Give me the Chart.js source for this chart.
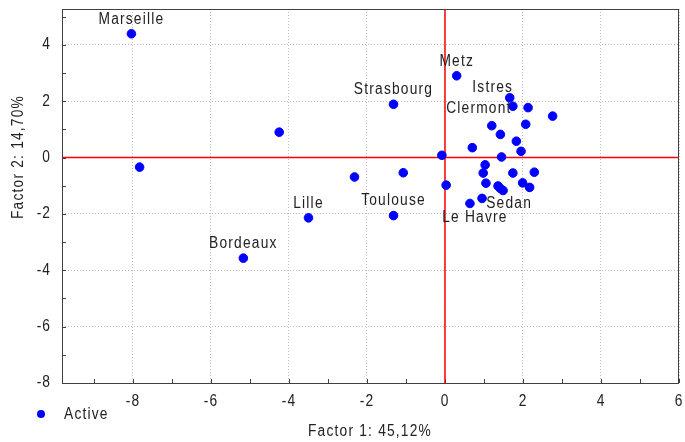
<!DOCTYPE html>
<html>
<head>
<meta charset="utf-8">
<script src="https://cdn.jsdelivr.net/npm/chart.js@4.4.1/dist/chart.umd.min.js"></script>
<style>
  html, body { margin: 0; padding: 0; background: #fff; }
  #wrap { width: 685px; height: 442px; }
</style>
</head>
<body>
<div id="wrap"><canvas id="pca" width="685" height="442"></canvas></div>
<script>
// PCA factor plane (factors 1 x 2), active observations, some labelled by city
const cityNames = ['Marseille', '', '', 'Strasbourg', '', '', 'Lille', 'Toulouse', 'Bordeaux',
  'Metz', 'Istres', 'Clermont', '', '', '', '', '', '', '', '', '', '', '', '', '', '', '', '', '',
  '', '', '', 'Sedan', '', 'Le Havre'];
const factor1 = [-8.04, -7.83, -4.25, -1.32, -2.32, -1.07, -3.50, -1.32, -5.17,
  0.30, 1.66, 1.74, 2.13, 2.76, 1.20, 2.07, 1.42, 1.83, 0.70, 1.95, -0.08, 1.45, 1.03, 0.98, 1.74,
  2.29, 1.05, 1.99, 2.17, 0.03, 1.36, 1.42, 1.49, 0.95, 0.64];
const factor2 = [4.39, -0.34, 0.90, 1.89, -0.69, -0.54, -2.14, -2.06, -3.57,
  2.90, 2.12, 1.82, 1.77, 1.47, 1.13, 1.18, 0.82, 0.58, 0.35, 0.22, 0.08, 0.02, -0.26, -0.55, -0.55,
  -0.52, -0.91, -0.90, -1.06, -0.98, -1.01, -1.10, -1.17, -1.45, -1.63];
const xTicks = [-8, -6, -4, -2, 0, 2, 4, 6];
const yTicks = [-8, -6, -4, -2, 0, 2, 4];
const seriesName = 'Active';
const xTitle = 'Factor 1: 45,12%';
const yTitle = 'Factor 2: 14,70%';

const FONT = "'Liberation Sans', Arial, sans-serif";
const BLUE = '#0000ff';
const INK = '#222';
// labels that were pushed off the default "centered above" spot
const labelShift = { 'Istres': [-17, -10], 'Clermont': [-34, 2.5], 'Sedan': [6, 13.5], 'Le Havre': [5, 14.5] };

// the original uses a tall, narrow screen font: squeeze a 16px sans horizontally
function narrowText(ctx, text, x, y, align, angle) {
  ctx.save();
  ctx.translate(x, y);
  if (angle) ctx.rotate(angle);
  ctx.scale(0.86, 1);
  ctx.textAlign = align;
  ctx.fillText(text, 0, 0);
  ctx.restore();
}

const framePlugin = {
  id: 'frame',
  beforeDatasetsDraw(chart) {
    const { ctx, chartArea: a, scales: { x, y } } = chart;
    ctx.save();
    // minor + major tick marks, pointing inward
    ctx.strokeStyle = '#404040';
    ctx.lineWidth = 1;
    ctx.beginPath();
    for (let v = Math.ceil(x.min); v <= x.max; v++) {
      const px = Math.round(x.getPixelForValue(v)) + 0.5;
      ctx.moveTo(px, a.bottom); ctx.lineTo(px, a.bottom - 4);
    }
    for (let v = Math.ceil(y.min); v <= y.max; v++) {
      const py = Math.round(y.getPixelForValue(v)) + 0.5;
      ctx.moveTo(a.left, py); ctx.lineTo(a.left + 4, py);
    }
    ctx.stroke();
    // red origin lines
    ctx.strokeStyle = '#ff0000';
    ctx.lineWidth = 1.5;
    ctx.beginPath();
    const x0 = x.getPixelForValue(0), y0 = y.getPixelForValue(0);
    ctx.moveTo(x0, a.top); ctx.lineTo(x0, a.bottom);
    ctx.moveTo(a.left, y0); ctx.lineTo(a.right, y0);
    ctx.stroke();
    // plot box
    ctx.strokeStyle = '#404040';
    ctx.lineWidth = 1;
    ctx.strokeRect(Math.round(a.left) + 0.5, Math.round(a.top) + 0.5,
      Math.round(a.right - a.left) - 1, Math.round(a.bottom - a.top));

    // tick labels, placed by the scales
    ctx.font = '16px ' + FONT;
    ctx.letterSpacing = '1.2px';
    ctx.fillStyle = INK;
    ctx.textBaseline = 'middle';
    x.ticks.forEach(t => narrowText(ctx, String(t.value), x.getPixelForValue(t.value), a.bottom + 19, 'center'));
    y.ticks.forEach(t => narrowText(ctx, String(t.value), a.left - 11, y.getPixelForValue(t.value), 'right'));
    ctx.restore();
  },
  afterDatasetsDraw(chart) {
    const { ctx } = chart;
    const meta = chart.getDatasetMeta(0);
    ctx.save();
    ctx.font = '16px ' + FONT;
    ctx.letterSpacing = '1.4px';
    ctx.fillStyle = INK;
    ctx.textBaseline = 'middle';
    meta.data.forEach((pt, i) => {
      const name = cityNames[i];
      if (!name) return;
      const [dx, dy] = labelShift[name] || [0, -14.5];
      narrowText(ctx, name, pt.x + dx, pt.y + dy, 'center');
    });
    // axis titles
    narrowText(ctx, xTitle, 370, 432, 'center');
    narrowText(ctx, yTitle, 19, 157, 'center', -Math.PI / 2);
    // legend
    ctx.fillStyle = BLUE;
    ctx.beginPath();
    ctx.arc(41, 414, 4, 0, Math.PI * 2);
    ctx.fill();
    ctx.fillStyle = INK;
    narrowText(ctx, seriesName, 64, 415, 'left');
    ctx.restore();
  }
};

const noPad = s => { s.paddingLeft = 0; s.paddingRight = 0; s.paddingTop = 0; s.paddingBottom = 0; };

new Chart(document.getElementById('pca'), {
  type: 'scatter',
  data: {
    datasets: [{
      label: seriesName,
      data: factor1.map((v, i) => ({ x: v, y: factor2[i] })),
      backgroundColor: BLUE,
      borderColor: BLUE,
      pointRadius: 4.3,
      pointHoverRadius: 4.3,
    }],
  },
  options: {
    responsive: false,
    animation: false,
    devicePixelRatio: 1,
    layout: { padding: { left: 0, top: 9, right: 6, bottom: 0 } },
    plugins: { legend: { display: false }, tooltip: { enabled: false } },
    scales: {
      x: {
        type: 'linear', min: -9.82, max: 6,
        afterBuildTicks: s => { s.ticks = xTicks.map(v => ({ value: v })); },
        afterFit: s => { s.height = 59; noPad(s); },
        grid: { color: '#bdbdbd', lineWidth: 1, drawTicks: false },
        border: { display: false, dash: [1, 2] },
        ticks: { display: false },
      },
      y: {
        type: 'linear', min: -8, max: 5.27,
        afterBuildTicks: s => { s.ticks = yTicks.map(v => ({ value: v })); },
        afterFit: s => { s.width = 62; noPad(s); },
        grid: { color: '#bdbdbd', lineWidth: 1, drawTicks: false },
        border: { display: false, dash: [1, 2] },
        ticks: { display: false },
      },
    },
  },
  plugins: [framePlugin],
});
</script>
</body>
</html>
